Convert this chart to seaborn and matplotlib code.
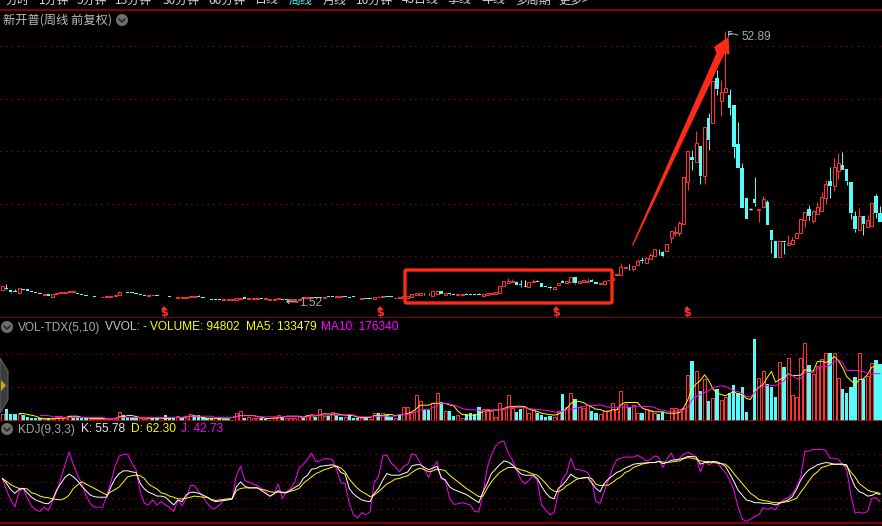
"""Weekly candlestick chart with volume and KDJ panes"""
import matplotlib

matplotlib.use("Agg")
import matplotlib.pyplot as plt
import numpy as np
import seaborn as sns
from matplotlib.patches import Circle, FancyBboxPatch, Polygon

nan = float("nan")

opens = [
    3.58, 3.90, 3.58, 3.4, 3.07, 3.85, 3.70, 3.40, 3.13, 2.95,
    2.56, 2.8, 2.31, 2.75, 2.95, 3.03, 3.13, 3.13, 2.95, 2.78,
    2.68, 2.68, 2.43, 2.31, 2.18, 2.25, 2.31, 2.43, 2.69, 3.26,
    3.2, 3.13, 3.0, 2.82, 2.56, 2.43, 2.56, 2.56, 2.43, 2.43,
    2.37, 2.31, 2.0, 2.0, 2.05, 2.18, 2.18, 2.37, 2.25, 1.93,
    1.87, 1.87, 1.87, 1.74, 1.74, 1.74, 1.74, 1.93, 2.18, 1.87,
    1.87, 1.87, 2.05, 1.8, 1.74, 1.74, 1.87, 1.93, 1.93, 1.74,
    1.74, 1.74,
    2.06, 2.06, 2.12, 2.2, 2.2, 2.12, 2.37, 2.4,
    2.2, 2.2, 2.4, 2.2, 2.35, 2.15, 1.9, 2.0, 2.0, 1.85,
    2.2, 2.25, 2.45, 2.35, 2.0, 2.05, 2.1,
    2.12, 2.32, 2.70,
    2.7, 2.9, 2.9, 2.5, 2.9, 3.4, 2.7, 3.0, 2.8, 2.65,
    2.65, 2.85, 2.75, 2.8, 2.85, 2.4, 2.7, 2.9, 2.9, 3.08,
    4.4, 5.0, 5.05, 5.15, 4.8, 4.4, 4.2, 5.05, 5.2, 4.9,
    4.3, 4.15, 3.85, 4.6, 5.2, 5.0, 5.15, 6.05, 5.0, 5.15,
    5.05, 5.5, 5.1, 4.65, 4.8, 5.4, 5.4, 6.4,
    6.42, 7.85,
    8.0, 7.5, 8.33, 9.35, 8.77, 9.53, 10.1, 11.1, 10.8, 11.06,
    13.53, 14.36, 14.36, 16.2, 24.08, 28.9, 28.0, 31.0, 25.35, 36.33,
    35.44, 43.89, 39.5, 41.35, 40.71, 38.74, 31.38, 26.81, 21.09, 18.93,
    20.9, 18.8, 19.44, 20.39, 15.0, 12.84, 9.91, 12.84, 12.2, 12.39,
    13.53, 14.36, 16.9, 18.93, 16.71, 18.11, 18.68, 21.15, 24.33, 23.44,
    26.3, 27.38, 26.62, 24.08, 17.66, 15.06, 17.66, 15.5, 15.82, 21.41,
    18.23,
]
closes = [
    4.34, 3.80, 3.26, 3.2, 3.90, 3.65, 3.40, 3.15, 3.0, 2.82,
    2.82, 2.5, 2.75, 2.95, 3.13, 3.2, 3.32, 3.32, 2.82, 2.63,
    2.5, 2.56, 2.31, 2.18, 2.31, 2.37, 2.43, 2.63, 3.13, 3.13,
    3.07, 3.0, 2.88, 2.56, 2.43, 2.63, 2.68, 2.43, 2.37, 2.37,
    2.25, 2.18, 2.18, 2.18, 2.25, 2.5, 2.37, 2.2, 2.0, 1.8,
    1.74, 1.74, 1.74, 1.87, 1.87, 1.87, 2.12, 2.05, 1.93, 2.0,
    2.0, 2.0, 1.93, 2.0, 1.87, 1.93, 2.0, 1.74, 1.67, 1.93,
    1.93, 1.93,
    2.25, 2.25, 2.25, 2.1, 2.1, 2.25, 2.25, 2.28,
    2.37, 2.35, 2.25, 2.05, 2.2, 2.0, 2.1, 1.85, 1.85, 2.25,
    2.3, 2.35, 2.3, 2.2, 2.15, 2.2, 2.4,
    2.44, 2.82, 2.95,
    3.08, 2.75, 2.8, 3.4, 3.4, 2.8, 3.0, 2.9, 2.65, 2.8,
    2.8, 2.7, 2.6, 2.55, 2.55, 2.85, 3.05, 3.05, 3.2, 4.35,
    5.25, 5.2, 5.35, 4.55, 4.5, 4.4, 5.05, 5.2, 5.05, 4.2,
    4.1, 4.05, 4.15, 4.9, 5.0, 5.3, 6.05, 5.0, 5.25, 5.4,
    5.2, 5.15, 4.7, 5.0, 5.3, 5.5, 5.8, 6.6,
    7.95, 8.0,
    7.9, 8.2, 9.03, 9.2, 9.6, 10.17, 11.31, 11.0, 10.1, 12.26,
    14.74, 14.55, 16.33, 25.03, 29.98, 28.39, 31.5, 25.35, 34.55, 32.14,
    43.32, 41.92, 41.22, 41.98, 38.3, 30.87, 26.87, 19.25, 17.15, 18.93,
    20.08, 19.0, 20.84, 16.01, 13.09, 9.66, 12.84, 12.75, 12.46, 13.03,
    14.36, 17.09, 18.42, 17.66, 18.68, 19.38, 21.28, 23.76, 23.44, 26.93,
    27.7, 26.43, 24.39, 18.3, 15.19, 17.66, 16.14, 16.9, 20.08, 18.3,
    16.52,
]
# only the bars with a visible wick, by bar number
highs = {
    0: 4.4, 1: 4.72, 3: 3.7, 11: 2.9, 28: 3.3, 47: 2.55, 58: 2.3, 101: 3.0,
    102: 3.0, 107: 3.1, 111: 3.0, 112: 2.9, 114: 3.0, 121: 5.8, 122: 5.6,
    123: 5.3, 124: 5.5, 125: 5.5, 127: 5.7, 128: 5.4, 131: 4.4, 134: 5.5,
    140: 5.8, 141: 5.7, 148: 8.65, 150: 8.5, 152: 9.47, 153: 9.79, 155: 10.55,
    157: 11.44, 158: 11.06, 161: 15.76, 162: 16.71, 165: 30.24, 166: 33.85,
    169: 37.22, 171: 45.48, 172: 43.57, 173: 52.89, 174: 41.79, 176: 35.57,
    177: 27.7, 180: 25.03, 182: 21.47, 183: 20.71, 188: 13.98, 189: 13.6,
    193: 19.76, 195: 20.39, 196: 22.17, 197: 24.52, 198: 26.93, 199: 28.65,
    200: 29.6, 201: 29.85, 204: 18.61, 205: 19.12, 207: 17.79, 209: 21.85,
    210: 19.57,
}
lows = {
    1: 3.58, 2: 3.0, 68: 1.6, 101: 2.6, 102: 2.57, 107: 2.6, 124: 4.2,
    131: 3.8, 137: 4.75, 150: 7.4, 151: 7.25, 153: 8.65, 157: 10.23, 158: 9.91,
    160: 12.58, 161: 13.85, 162: 13.85, 164: 22.6, 165: 26.43, 167: 23.82,
    168: 23.82, 169: 30.24, 171: 40.78, 172: 36.71, 174: 36.9, 175: 28.77,
    180: 19.63, 181: 16.58, 184: 10.68, 187: 10.42, 192: 15.63, 193: 16.9,
    194: 16.39, 197: 19.88, 198: 21.15, 199: 22.43, 200: 24.77, 202: 23.63,
    203: 17.15, 204: 14.68, 206: 14.11, 209: 17.28,
}

# volume, thousand lots; r = hollow red bar, c = solid cyan bar
volume = [
    6.5, 12, 6.5, 6.5, 7, 5.5, 3.5, 2.5, 2.5, 3,
    2, 2.5, 2, 4.5, 4.5, 2.5, 5, 3, 3, 3,
    2.5, 1.5, 2, 2, 2, 1.5, 2, 2, 9, 6,
    3.5, 4, 3, 2.5, 1.5, 2.5, 2.5, 2.5, 1, 5.5,
    2.5, 3, 4.5, 3, 3, 7, 5.5, 5.5, 3.5, 2.5,
    2.5, 2.5, 2.5, 1.5, 1.5, 1, 8, 10, 3, 3.5,
    3, 3, 3, 1.5, 1, 3, 6, 2.5, 2.5, 2.5,
    3, 5, 3, 6, 7, 3.5, 12, 4.5, 4.5, 9,
    6, 3.5, 3.5, 5.5, 2.5, 3, 2.5, 3.5, 2, 8,
    7.5, 8, 6, 3.5, 2.5, 6, 13.5, 14, 8.5, 26,
    20, 11, 11, 18, 28, 19, 10, 9.5, 4.5, 6,
    2.5, 7, 8, 7, 13.5, 11.5, 12, 10, 3.5, 18,
    11.5, 25.5, 12.5, 8.5, 11.5, 13.5, 7.5, 11.5, 7.5, 6,
    3.5, 4.5, 3.5, 9.5, 26.5, 14, 27.5, 21.5, 13.5, 12.5,
    15.5, 10, 7.5, 7, 9.3, 10, 17.7, 11.7, 30, 16.7,
    14, 16, 8, 8, 11.3, 10, 7.3, 7, 8.7, 1,
    12.7, 12.7, 12, 12.7, 45.7, 60, 50, 30, 42, 20,
    22.7, 32, 20.7, 24, 28, 36, 27.7, 33.3, 9, 1,
    82, 42.7, 50, 36.7, 34, 24, 58.7, 54, 62.7, 26,
    24, 62.7, 78, 56, 46.7, 54.7, 61.7, 68, 68, 68,
    42.7, 32, 27.3, 33.3, 44, 68, 41.3, 45, 58, 61, 57,
]
volume_side = (
    "rcccrccccc" "rcrrrrrccc" "crrrrrrrrc" "cccrrrccrc" "ccrcrrcccc"
    "crccccrrcr" "rrcccrrcrr" "rrcrrcrrcr" "ccrcccrcrr" "crccrcrrrr"
    "rccrrcrccr" "rccccrrrrr" "rrrccrrrcc" "ccrrcrrcrr" "rccrrrrrrr"
    "crrcrrrccr" "rrrrrcrcrc" "rcrrcccccr" "crrcccrcrr" "rrrcrrrrcr"
    "rccccrcrrc" "c"
)
ma5 = [
    nan, nan, nan, nan, 7, 7, 6, 5.3, 4.3, 2.5,
    1.8, 1.7, 1.8, 2, 2.2, 2.5, 4.3, 4.3, 4.3, 3,
    3, 2.2, 2, 2, 2, 2, 2, 2, 3.7, 3.7,
    5, 5, 4, 3, 2.5, 2.5, 2.5, 2.5, 2.2, 2,
    2, 3, 3, 3, 3.5, 4.3, 4.3, 3.8, 3, 2.3,
    2.3, 2.3, 2.3, 2.3, 2.3, 3, 4, 5, 5, 5,
    5, 4, 3.5, 2, 2, 2.6, 2.6, 3, 4.3, 4.3,
    4.3, 4.3, 3.3, 4.7, 4.7, 4.7, 5.5, 6.7, 6.5, 6.3,
    6.7, 5.8, 5.3, 5.3, 4.8, 3.3, 3, 3, 3, 5,
    5, 5, 6, 6, 5, 5.5, 6, 7, 8.7, 11.5,
    15.3, 15.3, 15.3, 17.3, 17.3, 17, 17, 15.5, 14.7, 9.3,
    6, 5.5, 5.3, 5.3, 6, 9, 9.5, 10.3, 10.5, 10.7,
    12, 13.5, 14, 14.3, 14.3, 14, 11.5, 10, 9, 7.3,
    6.5, 6, 5.3, 6.3, 9, 12, 17, 19.3, 19, 18,
    15.5, 13.5, 11.3, 11, 9.3, 9.3, 10.7, 10.7, 16, 18,
    18, 18, 18, 12.7, 11, 10, 8.7, 8.7, 8.7, 7.3,
    7.3, 7.3, 8, 12.7, 20.7, 31.7, 36.7, 40, 45.7, 40,
    31.7, 27.3, 26, 24.7, 27, 29.3, 26, 26, 22, 21,
    29.3, 33, 36, 43, 49, 38.3, 41, 42.7, 46.7, 45,
    45, 45.3, 50.7, 50, 49.3, 59, 59.3, 58, 60, 64,
    60, 53.3, 44, 40, 36, 40.7, 41.7, 46, 53.3, 54.3, 52,
]
ma10 = [
    nan, nan, nan, nan, nan, nan, nan, nan, nan, 5,
    5, 4.8, 4, 3, 3, 3, 3, 3, 3, 3,
    3, 3, 3, 3, 3, 2, 2, 2, 3, 3,
    3, 3, 3, 3, 3, 3, 3, 3, 3, 3,
    3, 3, 3, 3, 4.3, 4.3, 4.3, 4.3, 4.3, 4.3,
    4.3, 3, 3, 3, 3, 3, 4, 4.7, 4.7, 4.7,
    4.7, 3.7, 3.7, 3.7, 3.7, 3.7, 3.7, 3.7, 3.7, 3.7,
    3.7, 3.7, 3.3, 3.3, 5, 5.3, 5.3, 5.3, 5.3, 5.3,
    5.3, 5.3, 5.5, 6, 5.5, 4, 3.7, 3.7, 3.7, 4.3,
    4.3, 4.3, 4.3, 4.3, 4.3, 6, 6, 6, 7.3, 8.5,
    10.3, 11, 11, 13, 14.7, 17.3, 17.3, 16.5, 15.3, 14,
    12, 11, 10.7, 10.7, 10.2, 9.5, 8.7, 9.5, 10.7, 11,
    11.5, 12.5, 13, 13, 13, 12.7, 12.2, 11.3, 11, 10.6,
    10.3, 9.5, 8.5, 8, 9.3, 10.5, 11.3, 12, 13.3, 14,
    15.3, 15.3, 15, 15.7, 14.5, 13.3, 13.3, 13.3, 13.3, 13.3,
    13.3, 13.3, 14.5, 14, 14, 14, 13, 11, 10.5, 9.5,
    8.7, 8.7, 9, 10.7, 13, 20.7, 24, 26, 28, 30,
    33, 34, 34.7, 34, 32, 29.7, 29, 27, 24, 23.3,
    28, 32.7, 34, 35, 35, 34.7, 37, 39.3, 46, 45,
    42, 42, 48.3, 48, 48, 52, 53.7, 54, 55, 59,
    60.7, 58, 50, 50, 50, 49.7, 49, 47, 46.3, 47, 46.7,
]

kdj_k = [
    56, 47, 36, 29, 36, 38, 30, 22, 17, 14,
    11, 10, 17, 35, 47, 58, 64, 59, 52, 42,
    34, 26, 23, 22, 22, 22, 41, 56, 65, 70,
    70, 68, 67, 47, 37, 31, 28, 24, 24, 22,
    15, 8, 17, 14, 26, 31, 31, 29, 26, 22,
    17, 14, 15, 16, 17, 19, 41, 50, 42, 39,
    39, 39, 34, 29, 24, 28, 34, 30, 30, 35,
    40, 44, 56, 62, 73, 74, 78, 79, 80, 81,
    78, 67, 64, 38, 28, 22, 17, 15, 14, 29,
    38, 53, 65, 62, 62, 62, 65, 68, 79, 81,
    81, 76, 72, 75, 78, 58, 53, 41, 36, 33,
    30, 27, 22, 17, 12, 32, 47, 65, 73, 81,
    88, 86, 81, 73, 65, 62, 62, 62, 56, 42,
    30, 22, 19, 38, 44, 53, 64, 58, 56, 57,
    58, 48, 38, 32, 47, 55, 61, 67, 70, 75,
    78, 82, 83, 84, 84, 85, 85, 87, 83, 85,
    89, 90, 91, 93, 96, 96, 95, 82, 85, 85,
    87, 86, 83, 78, 65, 51, 35, 26, 17, 15,
    12, 12, 11, 11, 10, 8, 11, 14, 17, 23,
    36, 53, 64, 72, 76, 81, 83, 85, 84, 82,
    82, 82, 81, 59, 41, 32, 29, 24, 25, 29, 27,
]
kdj_d = [
    56, 51, 45, 41, 38, 38, 37, 30, 28, 24,
    22, 21, 19, 18, 17, 20, 26, 38, 44, 50,
    46, 42, 38, 34, 30, 26, 32, 36, 41, 50,
    59, 61, 62, 61, 56, 46, 41, 37, 30, 28,
    24, 22, 19, 19, 20, 22, 24, 23, 22, 22,
    18, 16, 17, 18, 19, 20, 34, 38, 39, 39,
    39, 39, 36, 35, 32, 31, 31, 31, 31, 33,
    35, 38, 47, 53, 59, 65, 68, 72, 74, 77,
    78, 75, 68, 55, 46, 38, 32, 28, 23, 26,
    32, 39, 46, 50, 55, 56, 59, 61, 67, 72,
    75, 72, 68, 70, 73, 72, 70, 62, 56, 50,
    44, 38, 33, 28, 23, 24, 38, 50, 59, 67,
    72, 76, 76, 75, 72, 70, 67, 64, 62, 55,
    47, 38, 33, 32, 36, 43, 47, 53, 56, 57,
    58, 56, 46, 43, 44, 44, 49, 55, 59, 67,
    70, 76, 79, 82, 84, 85, 85, 87, 86, 85,
    86, 87, 88, 92, 94, 93, 91, 88, 87, 87,
    85, 84, 83, 82, 75, 65, 56, 47, 38, 29,
    24, 18, 16, 15, 13, 12, 12, 13, 14, 17,
    20, 31, 41, 52, 62, 68, 76, 78, 81, 82,
    82, 82, 78, 68, 59, 47, 41, 35, 32, 31, 29,
]
kdj_j = [
    56, 35, 17, 4, 32, 38, 20, 6, -1, -4,
    4, -2, 14, 32, 56, 81, 104, 81, 62, 47,
    26, 11, 4, 4, 4, 26, 50, 78, 97, 100,
    100, 84, 72, 32, 11, 8, 17, 8, 14, 8,
    4, -4, 17, 6, 20, 43, 43, 32, 23, 11,
    2, 2, 8, 17, 18, 18, 62, 78, 53, 49,
    46, 43, 38, 32, 23, 28, 46, 20, 32, 38,
    50, 75, 82, 91, 102, 87, 88, 92, 92, 90,
    72, 48, 47, 11, -10, -16, -6, -10, -4, 50,
    59, 97, 99, 84, 78, 68, 78, 82, 101, 98,
    84, 72, 58, 75, 87, 55, 53, 20, 9, 10,
    12, 10, 8, -4, -5, 29, 75, 99, 115, 122,
    124, 102, 90, 72, 55, 46, 53, 61, 52, 8,
    -1, -10, -6, 29, 55, 65, 93, 73, 72, 70,
    67, 53, 14, 11, 32, 53, 75, 90, 93, 95,
    95, 95, 98, 94, 88, 90, 97, 95, 76, 91,
    102, 87, 93, 100, 104, 100, 95, 68, 87, 81,
    85, 87, 75, 67, 53, 35, 5, -18, -22, -18,
    -13, -10, 3, 0, 3, -1, 12, 18, 21, 28,
    41, 59, 105, 106, 109, 109, 109, 107, 93, 93,
    91, 82, 72, 26, -7, -5, -7, -4, 20, 21, 14,
]

price_grid = [10, 20, 30, 40, 50]
volume_grid = [34, 67]
kdj_grid = [0, 20, 50, 80, 100]
menu_items = [
    ("分时", 5), ("1分钟", 39), ("5分钟", 77), ("15分钟", 115), ("30分钟", 163),
    ("60分钟", 208), ("日线", 255), ("周线", 289), ("月线", 323), ("10分钟", 356),
    ("45日线", 402), ("季线", 448), ("年线", 481), ("多周期", 515), ("更多>", 558),
]
signal_x = [164, 380, 556, 687]

RED = "#ff3232"
CYAN = "#54fcfc"
YELLOW = "#ffff00"
MAGENTA = "#ff00ff"
LINE_RED = "#b00000"
DOT_RED = "#a00000"
MARK_RED = "#ff2a18"
WIDTH, HEIGHT = 882, 526
CJK = ["Noto Sans CJK SC", "DejaVu Sans"]
LATIN = "Liberation Sans"

sns.set_theme(
    style="dark",
    rc={"figure.facecolor": "black", "axes.facecolor": "black", "savefig.facecolor": "black"},
)
plt.rcParams["font.family"] = CJK


def add_pane(fig, top, bottom, ylim, grid_values):
    """Full width axes between two pixel rows, with the dark red divider line"""
    ax = fig.add_axes([0, 1 - bottom / HEIGHT, 1, (bottom - top) / HEIGHT])
    for value in grid_values:
        ax.axhline(value, color=DOT_RED, lw=0.72, ls=(0, (1.4, 4.2)), zorder=0)
    for side in ["left", "right", "top"]:
        ax.spines[side].set_visible(False)
    ax.spines["bottom"].set_visible(True)
    ax.spines["bottom"].set_color(LINE_RED)
    ax.spines["bottom"].set_linewidth(1.1)
    ax.set_ylim(*ylim)
    return ax


def finish_pane(ax, ylim):
    ax.set_xlim(-0.55, 210.45)
    ax.set_ylim(*ylim)
    ax.set_xticks([])
    ax.set_yticks([])
    ax.set_xlabel("")
    ax.set_ylabel("")


def draw_candles(ax):
    """Hollow red for up weeks, solid cyan for down weeks, white when flat"""
    x = np.arange(len(opens))
    open_arr = np.array(opens)
    close_arr = np.array(closes)
    top = np.maximum(open_arr, close_arr)
    bottom = np.minimum(open_arr, close_arr)
    colors = np.where(close_arr > open_arr, RED, np.where(close_arr < open_arr, CYAN, "white"))

    for bar, high in highs.items():
        ax.vlines(bar, top[bar], high, color=str(colors[bar]), lw=0.72, zorder=2)
    for bar, low in lows.items():
        ax.vlines(bar, low, bottom[bar], color=str(colors[bar]), lw=0.72, zorder=2)

    up = close_arr > open_arr
    down = close_arr < open_arr
    flat = close_arr == open_arr
    ax.bar(x[up], (top - bottom)[up], bottom=bottom[up], width=0.72,
           facecolor="black", edgecolor=RED, linewidth=0.72, zorder=3)
    ax.bar(x[down], (top - bottom)[down], bottom=bottom[down], width=0.82,
           color=CYAN, linewidth=0, zorder=3)
    ax.hlines(close_arr[flat], x[flat] - 0.3, x[flat] + 0.3, color="white", lw=1, zorder=3)


def draw_volume(ax):
    x = np.arange(len(volume))
    values = np.array(volume)
    side = np.array(list(volume_side))
    sns.barplot(x=x[side == "c"], y=values[side == "c"], native_scale=True, color=CYAN,
                saturation=1, width=0.8, linewidth=0, errorbar=None, ax=ax, zorder=2)
    sns.barplot(x=x[side == "r"], y=values[side == "r"], native_scale=True, color=RED,
                saturation=1, width=0.72, fill=False, linewidth=0.72, errorbar=None, ax=ax,
                zorder=2)
    sns.lineplot(x=x, y=ma5, color=YELLOW, linewidth=0.7, ax=ax, zorder=4)
    sns.lineplot(x=x, y=ma10, color=MAGENTA, linewidth=0.7, ax=ax, zorder=5)


def draw_kdj(ax):
    x = np.arange(len(kdj_k))
    sns.lineplot(x=x, y=kdj_j, color=MAGENTA, linewidth=0.7, ax=ax, zorder=2)
    sns.lineplot(x=x, y=kdj_d, color=YELLOW, linewidth=0.7, ax=ax, zorder=3)
    sns.lineplot(x=x, y=kdj_k, color="white", linewidth=0.7, ax=ax, zorder=4)


def round_button(ax, x, y):
    ax.add_patch(Circle((x, y), 6, color="#6e6e6e", lw=0))
    ax.plot([x - 3, x, x + 3], [y - 1, y + 2, y - 1], color="#222222", lw=1.1)


def draw_overlay(fig):
    """Labels and hand drawn marks, positioned in screen pixels"""
    ax = fig.add_axes([0, 0, 1, 1], zorder=10)
    ax.set_xlim(0, WIDTH)
    ax.set_ylim(HEIGHT, 0)
    ax.axis("off")
    ax.patch.set_alpha(0)

    for label, x in menu_items:
        color = CYAN if label == "周线" else "#d8d8d8"
        ax.text(x, 0, label, color=color, fontsize=8.6, va="center", family=CJK)
    ax.text(3, 20, "新开普(周线 前复权)", color="#bdbdbd", fontsize=8.8, va="center", family=CJK)
    round_button(ax, 122, 20)

    ax.text(18, 327.5, "VOL-TDX(5,10)", color="#a8a8a8", fontsize=8.6, va="center", family=LATIN)
    ax.text(105, 327.5, "VVOL: -", color="#c8c8c8", fontsize=8.6, va="center", family=LATIN)
    ax.text(150, 327.5, "VOLUME: 94802", color=YELLOW, fontsize=8.6, va="center", family=LATIN)
    ax.text(246, 327.5, "MA5: 133479", color=YELLOW, fontsize=8.6, va="center", family=LATIN)
    ax.text(321, 327.5, "MA10: 176340", color=MAGENTA, fontsize=8.6, va="center", family=LATIN)
    round_button(ax, 7, 327)

    ax.text(18, 429.5, "KDJ(9,3,3)", color="#a8a8a8", fontsize=8.6, va="center", family=LATIN)
    ax.text(81, 429.5, "K: 55.78", color="#e8e8e8", fontsize=8.6, va="center", family=LATIN)
    ax.text(131, 429.5, "D: 62.30", color=YELLOW, fontsize=8.6, va="center", family=LATIN)
    ax.text(181, 429.5, "J: 42.73", color=MAGENTA, fontsize=8.6, va="center", family=LATIN)
    round_button(ax, 7, 429)

    # high and low price tags
    ax.plot([728, 728, 731], [36, 31, 31], color="#b0b0b0", lw=0.7)
    ax.plot([728, 731], [34, 34], color="#b0b0b0", lw=0.7)
    ax.plot([729, 738], [33, 35], color="#b0b0b0", lw=0.7)
    ax.text(741, 36.5, "52.89", color="#a8a8a8", fontsize=8.6, va="center", family=LATIN)
    ax.plot([287, 298], [301.5, 302], color="#c8c8c8", lw=0.8)
    ax.plot([289, 287, 289], [299.5, 301.5, 303.5], color="#c8c8c8", lw=0.8)
    ax.text(299, 302.5, "1.52", color="#a8a8a8", fontsize=8.6, va="center", family=LATIN)

    # signal marks on the divider
    for x in signal_x:
        ax.add_patch(Polygon([(x - 3, 309.5), (x, 306), (x + 3, 309.5)], color=RED, lw=0))
        ax.text(x, 313.5, "$", color=RED, fontsize=8, fontweight="bold", ha="center",
                va="center", family="DejaVu Sans")

    # red box and arrow added on top of the screenshot
    ax.add_patch(FancyBboxPatch((405, 270), 207, 33, boxstyle="round,pad=0,rounding_size=1.5",
                                fill=False, edgecolor=MARK_RED, lw=2.4))
    ax.add_patch(Polygon(
        [(632, 245), (716.5, 53), (714, 47), (728.5, 37), (729.5, 54.5), (724.5, 53.5), (633, 246)],
        color=MARK_RED, lw=0,
    ))

    # collapse tab on the left edge
    ax.add_patch(Polygon([(0, 358), (8, 371), (8, 400), (0, 413)],
                         facecolor="#3c3c3c", edgecolor="#5c5c5c", lw=0.8))
    ax.add_patch(Polygon([(1, 380), (6, 385.5), (1, 391)], color="#d8a020", lw=0))


price_ylim = (-1.81, 56.86)
volume_ylim = (-0.8, 102.2)
kdj_ylim = (-25.45, 160)

fig = plt.figure(figsize=(WIDTH / 100, HEIGHT / 100), dpi=100)

price_ax = add_pane(fig, 10.3, 318.3, price_ylim, price_grid)
price_ax.spines["top"].set_visible(True)
price_ax.spines["top"].set_color(LINE_RED)
price_ax.spines["top"].set_linewidth(1.1)
draw_candles(price_ax)
finish_pane(price_ax, price_ylim)

volume_ax = add_pane(fig, 318.3, 421.3, volume_ylim, volume_grid)
draw_volume(volume_ax)
finish_pane(volume_ax, volume_ylim)

kdj_ax = add_pane(fig, 421.3, 523.3, kdj_ylim, kdj_grid)
draw_kdj(kdj_ax)
finish_pane(kdj_ax, kdj_ylim)

draw_overlay(fig)
fig.savefig("out.png", dpi=100)
